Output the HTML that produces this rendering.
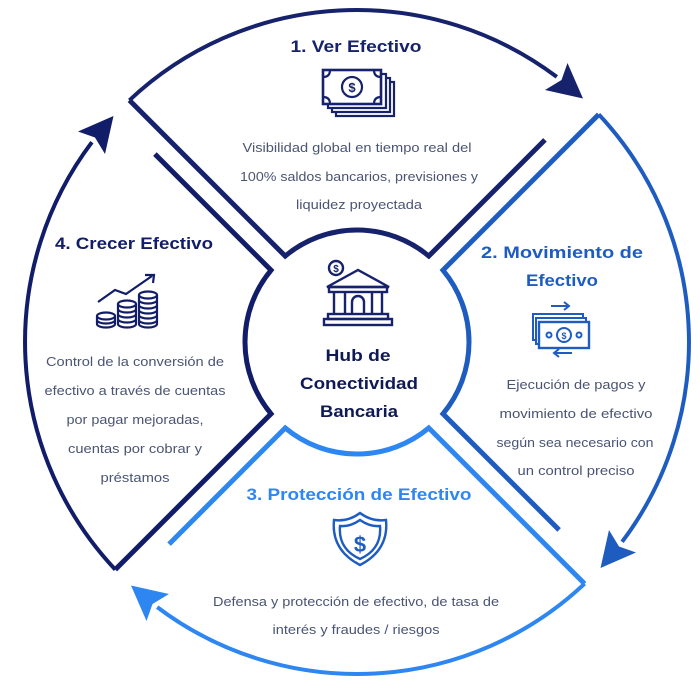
<!DOCTYPE html>
<html><head><meta charset="utf-8">
<style>
html,body{margin:0;padding:0;background:#fff;}
svg{display:block;}
text{font-family:"Liberation Sans",sans-serif;}
.t{font-weight:bold;font-size:17px;}
.b{font-size:13px;fill:#4a5473;}
</style></head>
<body>
<svg width="700" height="682" viewBox="0 0 700 682" xmlns="http://www.w3.org/2000/svg">
<defs>
<g id="q">
  <path d="M -227.58 -241.72 L -71.81 -85.95 A 112 112 0 0 1 71.81 -85.95 L 187.95 -202.09" fill="none" stroke-width="5" stroke-linejoin="miter"/>
  <path d="M -227.58 -241.72 A 332 332 0 0 1 199.8 -265.1" fill="none" stroke-width="4"/>
  <polygon points="226.0,-243.5 210.5,-279.0 204.5,-262.0 188.0,-252.0" stroke="none"/>
</g>
</defs>
<g transform="translate(357,342)">
  <use href="#q" stroke="#16226c" fill="#16226c"/>
  <use href="#q" transform="rotate(90)" stroke="#1f5cc0" fill="#1f5cc0"/>
  <use href="#q" transform="rotate(180)" stroke="#2e86f0" fill="#2e86f0"/>
  <use href="#q" transform="rotate(270)" stroke="#111d68" fill="#111d68"/>
</g>

<text class="t" x="356" y="52" text-anchor="middle" fill="#16226c" textLength="131" lengthAdjust="spacingAndGlyphs">1. Ver Efectivo</text>
<text class="t" x="134" y="249" text-anchor="middle" fill="#111d68" textLength="158" lengthAdjust="spacingAndGlyphs">4. Crecer Efectivo</text>
<text class="t" x="562" y="258" text-anchor="middle" fill="#1f5cc0" textLength="162" lengthAdjust="spacingAndGlyphs">2. Movimiento de</text>
<text class="t" x="562" y="286" text-anchor="middle" fill="#1f5cc0" textLength="72" lengthAdjust="spacingAndGlyphs">Efectivo</text>
<text class="t" x="359" y="500" text-anchor="middle" fill="#2e86f0" textLength="225" lengthAdjust="spacingAndGlyphs">3. Protección de Efectivo</text>
<text class="t" x="358" y="361" text-anchor="middle" fill="#0f1a55" textLength="65" lengthAdjust="spacingAndGlyphs">Hub de</text>
<text class="t" x="359" y="389" text-anchor="middle" fill="#0f1a55" textLength="118" lengthAdjust="spacingAndGlyphs">Conectividad</text>
<text class="t" x="359" y="417" text-anchor="middle" fill="#0f1a55" textLength="78" lengthAdjust="spacingAndGlyphs">Bancaria</text>

<g class="b" text-anchor="middle">
<text x="357" y="152" textLength="229" lengthAdjust="spacingAndGlyphs">Visibilidad global en tiempo real del</text>
<text x="359" y="181" textLength="238" lengthAdjust="spacingAndGlyphs">100% saldos bancarios, previsiones y</text>
<text x="359" y="209" textLength="126" lengthAdjust="spacingAndGlyphs">liquidez proyectada</text>

<text x="135" y="366" textLength="178" lengthAdjust="spacingAndGlyphs">Control de la conversión de</text>
<text x="135" y="395" textLength="181" lengthAdjust="spacingAndGlyphs">efectivo a través de cuentas</text>
<text x="135" y="424" textLength="137" lengthAdjust="spacingAndGlyphs">por pagar mejoradas,</text>
<text x="135" y="453" textLength="134" lengthAdjust="spacingAndGlyphs">cuentas por cobrar y</text>
<text x="135" y="482" textLength="69" lengthAdjust="spacingAndGlyphs">préstamos</text>

<text x="576" y="389" textLength="139" lengthAdjust="spacingAndGlyphs">Ejecución de  pagos y</text>
<text x="576" y="418" textLength="153" lengthAdjust="spacingAndGlyphs">movimiento de efectivo</text>
<text x="575" y="447" textLength="157" lengthAdjust="spacingAndGlyphs">según sea necesario con</text>
<text x="576" y="475" textLength="117" lengthAdjust="spacingAndGlyphs">un control preciso</text>

<text x="356" y="606" textLength="286" lengthAdjust="spacingAndGlyphs">Defensa y protección de efectivo, de tasa de</text>
<text x="356" y="634" textLength="167" lengthAdjust="spacingAndGlyphs">interés y fraudes / riesgos</text>
</g>

<g fill="none" stroke="#16226c" stroke-width="2.2">
  <rect x="336" y="82" width="58" height="34"/>
  <rect x="332" y="78" width="58" height="34" fill="#fff"/>
  <rect x="328" y="74" width="58" height="34" fill="#fff"/>
  <rect x="323" y="70" width="58" height="34" fill="#fff" stroke-width="2.6"/>
  <circle cx="352" cy="87" r="10"/>
  <path d="M323 77 q7 0 7 -7 M374 70 q0 7 7 7 M323 97 q7 0 7 7 M374 104 q0 -7 7 -7"/>
</g>
<text x="352" y="92" text-anchor="middle" font-size="13" font-weight="bold" fill="#16226c">$</text>

<g fill="none" stroke="#16226c" stroke-width="2.4">
  <path d="M327 287 L358 270 L389 287 Z"/>
  <rect x="329" y="287" width="58" height="5"/>
  <path d="M334 292 V314 M345 292 V314 M372 292 V314 M382 292 V314"/>
  <path d="M352 314 V302 a6 6 0 0 1 12 0 V314"/>
  <rect x="328" y="314" width="60" height="5"/>
  <rect x="324" y="319" width="68" height="6"/>
  <circle cx="336" cy="268" r="7" fill="#fff"/>
</g>
<text x="336" y="272" text-anchor="middle" font-size="10" font-weight="bold" fill="#16226c">$</text>

<g fill="none" stroke="#111d68" stroke-width="2.2">
  <path d="M98 302 L115 290 L126 294 L152 276"/>
  <path d="M145 275 L154 275 L153 283" />
  <ellipse cx="106" cy="316" rx="9" ry="3.5"/>
  <path d="M97 316 v8 a9 3.5 0 0 0 18 0 v-8 M97 320 a9 3.5 0 0 0 18 0"/>
  <ellipse cx="127" cy="304" rx="9" ry="3.5"/>
  <path d="M118 304 v20 a9 3.5 0 0 0 18 0 v-20 M118 309 a9 3.5 0 0 0 18 0 M118 314 a9 3.5 0 0 0 18 0 M118 319 a9 3.5 0 0 0 18 0"/>
  <ellipse cx="148" cy="295" rx="9" ry="3.5"/>
  <path d="M139 295 v29 a9 3.5 0 0 0 18 0 v-29 M139 300 a9 3.5 0 0 0 18 0 M139 305 a9 3.5 0 0 0 18 0 M139 310 a9 3.5 0 0 0 18 0 M139 315 a9 3.5 0 0 0 18 0 M139 320 a9 3.5 0 0 0 18 0"/>
</g>

<g fill="none" stroke="#1f5cc0" stroke-width="2">
  <path d="M551 306 H568 M564 302 L569 306 L564 310"/>
  <rect x="533" y="314" width="50" height="26"/>
  <rect x="536" y="318" width="50" height="26" fill="#fff"/>
  <rect x="539" y="322" width="50" height="26" fill="#fff" stroke-width="2.4"/>
  <circle cx="564" cy="335" r="7"/>
  <circle cx="549" cy="335" r="2.5"/>
  <circle cx="579" cy="335" r="2.5"/>
  <path d="M572 353 H555 M559 349 L554 353 L559 357"/>
</g>
<text x="564" y="339" text-anchor="middle" font-size="9" font-weight="bold" fill="#1f5cc0">$</text>

<g fill="none" stroke="#1f5cc0" stroke-width="2.4">
  <path d="M360 513 Q372 522 386 520 Q389 550 360 565 Q331 550 334 520 Q348 522 360 513 Z"/>
  <path d="M360 520 Q370 527 380 526 Q382 549 360 559 Q338 549 340 526 Q350 527 360 520 Z"/>
</g>
<text x="360" y="552" text-anchor="middle" font-size="22" font-weight="bold" fill="#1f5cc0">$</text>
</svg>
</body></html>
